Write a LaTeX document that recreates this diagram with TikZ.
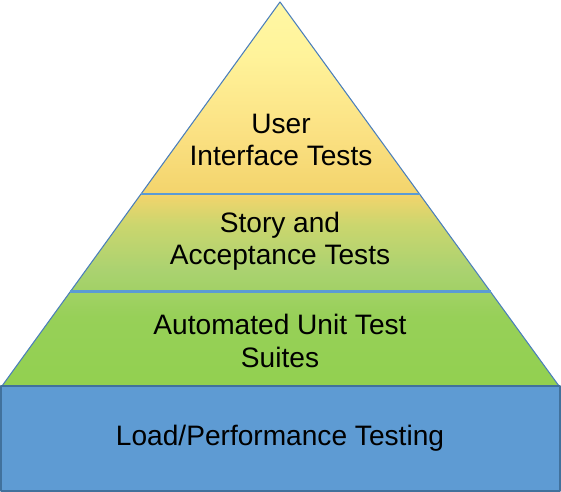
\documentclass[tikz,border=0pt]{standalone}
\usepackage{fontspec}
\setmainfont{Liberation Sans}
\usetikzlibrary{calc}
\definecolor{baseblue}{HTML}{5E9BD3}
\definecolor{baseline}{HTML}{41719C}
\definecolor{bandline}{HTML}{5B9BD5}
\definecolor{edgeline}{HTML}{4A7EBB}
\definecolor{grA}{HTML}{92D050}
\definecolor{grB}{HTML}{97D058}
\definecolor{grC}{HTML}{AAD270}
\definecolor{grD}{HTML}{CBD66E}
\definecolor{ylA}{HTML}{F3D46C}
\definecolor{ylB}{HTML}{FBE183}
\definecolor{ylC}{HTML}{FFF39A}
\definecolor{ylD}{HTML}{FFF8A4}
\pgfdeclareverticalshading{pyramid}{100bp}{color(0bp)=(grA); color(25bp)=(grA);
  color(34bp)=(grB); color(40bp)=(grC); color(46bp)=(grD); color(50bp)=(ylA);
  color(58bp)=(ylB); color(68bp)=(ylC); color(75bp)=(ylD); color(100bp)=(ylD)}
\tikzset{
  edge/.style={draw=edgeline,line width=0.6pt,shading=pyramid},
  band/.style={draw=bandline,line width=1.7pt},
  base/.style={draw=baseline,fill=baseblue,line width=0.8pt},
  label/.style={align=center,text=black}
}
\begin{document}
\begin{tikzpicture}[x=0.02cm,y=-0.02cm,font=\fontsize{16}{18.4}\selectfont,line join=round]
\useasboundingbox (0,0) rectangle (561,492);
\path
(280,2) coordinate (T)
(2,386) coordinate (L)
(559,386) coordinate (R)
($(T)!0.5!(L)$) coordinate (L1)
($(T)!0.5!(R)$) coordinate (R1)
($(T)!0.755!(L)$) coordinate (L2)
($(T)!0.755!(R)$) coordinate (R2)
(1,386) coordinate (B1)
(560,491) coordinate (B2)
;
\shadedraw[edge] (T)--(L)--(R)--cycle;
\draw[band] (L1)--(R1) (L2)--(R2);
\draw[base] (B1) rectangle (B2);
\node[label] (ui) at (281,140) {User\\Interface Tests};
\node[label] (story) at (280,241) {Story and\\Acceptance Tests};
\node[label] (unit) at (280,341) {Automated Unit Test\\Suites};
\node[label] (load) at (280,438) {Load/Performance Testing};
\end{tikzpicture}
\end{document}
